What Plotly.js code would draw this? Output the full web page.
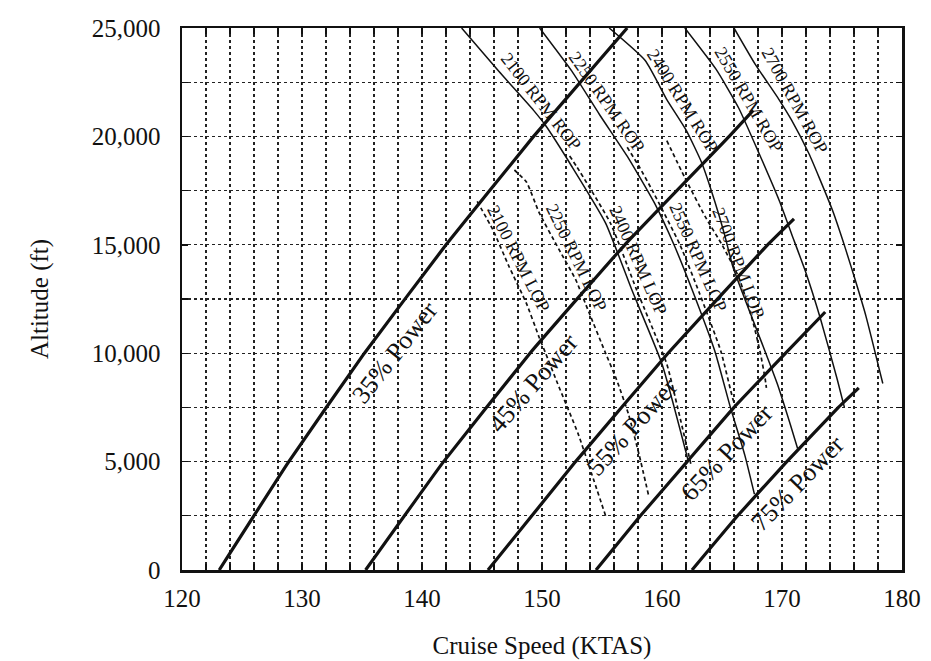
<!DOCTYPE html>
<html><head><meta charset="utf-8">
<script src="https://cdn.plot.ly/plotly-3.0.1.min.js"></script>
<style>html,body{margin:0;padding:0;background:#fff}#chart{width:931px;height:661px}</style>
</head><body><div id="chart"></div>
<script>
// ---- Axis ticks ----
const xTickVals = [120, 130, 140, 150, 160, 170, 180];
const xTickText = ['120', '130', '140', '150', '160', '170', '180'];
const yTickVals = [0, 5000, 10000, 15000, 20000, 25000];
const yTickText = ['0', '5,000', '10,000', '15,000', '20,000', '25,000'];

// ---- Percent power lines (KTAS, altitude ft) ----
const p35Kt  = [123.1, 128.9, 135.2, 142.0, 149.3, 157.1];
const p35Alt = [0, 5000, 10000, 15000, 20000, 25000];
const p45Kt  = [135.3, 141.8, 149.0, 156.9, 165.6, 167.6];
const p45Alt = [0, 5000, 10000, 15000, 20000, 21200];
const p55Kt  = [145.5, 152.8, 160.5, 168.8, 171.0];
const p55Alt = [0, 5000, 10000, 15000, 16200];
const p65Kt  = [154.5, 158.2, 162.1, 166.0, 170.3, 173.6];
const p65Alt = [0, 2500, 5000, 7500, 10000, 11900];
const p75Kt  = [162.5, 166.3, 170.4, 174.7, 176.4];
const p75Alt = [0, 2500, 5000, 7500, 8400];

// ---- Rich of peak (solid) ----
const rop2100Kt  = [143.3, 146.4, 149.3, 150.3, 152.5, 155.3, 157.5, 160.0, 162.2];
const rop2100Alt = [25000, 23000, 21200, 20500, 18600, 16000, 12900, 9500, 5000];
const rop2250Kt  = [149.8, 152.5, 154.8, 157.2, 159.4, 161.0, 162.6, 164.4, 165.7, 166.9, 167.7];
const rop2250Alt = [25000, 23000, 21000, 19000, 16900, 15000, 12800, 10100, 7500, 5300, 3500];
const rop2400Kt  = [155.6, 158.6, 160.4, 162.0, 163.3, 164.4, 165.2, 165.9, 166.9, 168.3, 169.6, 170.7, 171.3];
const rop2400Alt = [25000, 23500, 21700, 20300, 18800, 17000, 15500, 14000, 12500, 10500, 8600, 6700, 5600];
const rop2550Kt  = [161.9, 164.5, 166.4, 168.1, 169.8, 170.8, 172.0, 173.2, 174.6, 175.2];
const rop2550Alt = [25000, 23100, 21300, 19200, 17000, 15500, 13700, 11600, 8800, 7500];
const rop2700Kt  = [166.0, 167.8, 169.75, 170.8, 172.25, 173.1, 174.2, 175.3, 176.2, 177.0, 178.4];
const rop2700Alt = [25000, 23300, 21700, 20750, 19200, 18100, 16600, 14800, 13200, 11700, 8600];

// ---- Lean of peak (dashed) ----
const lop2100Kt  = [144.6, 145.9, 147.25, 148.7, 149.75, 150.3, 151.3, 153.0, 154.1, 155.3];
const lop2100Alt = [17000, 15700, 14000, 12300, 10750, 10000, 8600, 6300, 4500, 2500];
const lop2250Kt  = [147.7, 148.7, 149.75, 151.4, 152.8, 153.9, 155.3, 156.2, 157.2, 158.1, 158.9];
const lop2250Alt = [18450, 17900, 16500, 14800, 13400, 11900, 10000, 8800, 7200, 5300, 3400];
const lop2400Kt  = [152.3, 152.9, 155.7, 157.9, 160.4, 161.3, 162.4];
const lop2400Alt = [19100, 18600, 16000, 12900, 9500, 7500, 4900];
const lop2550Kt  = [157.1, 158.1, 159.2, 161.5, 163.1, 164.9, 165.9, 166.1];
const lop2550Alt = [19500, 18600, 17500, 15000, 12800, 10100, 7900, 7600];
const lop2700Kt  = [160.4, 161.9, 163.6, 165.0, 166.4, 167.6, 168.2, 168.6, 168.7];
const lop2700Alt = [19800, 18100, 16300, 15000, 13500, 11400, 10000, 8800, 8400];

const series = {
  p35: [p35Kt, p35Alt], p45: [p45Kt, p45Alt], p55: [p55Kt, p55Alt], p65: [p65Kt, p65Alt], p75: [p75Kt, p75Alt],
  r2100: [rop2100Kt, rop2100Alt], r2250: [rop2250Kt, rop2250Alt], r2400: [rop2400Kt, rop2400Alt],
  r2550: [rop2550Kt, rop2550Alt], r2700: [rop2700Kt, rop2700Alt],
  l2100: [lop2100Kt, lop2100Alt], l2250: [lop2250Kt, lop2250Alt], l2400: [lop2400Kt, lop2400Alt],
  l2550: [lop2550Kt, lop2550Alt], l2700: [lop2700Kt, lop2700Alt]
};

const powerKeys = ['p35', 'p45', 'p55', 'p65', 'p75'];
const ropKeys = ['r2100', 'r2250', 'r2400', 'r2550', 'r2700'];
const lopKeys = ['l2100', 'l2250', 'l2400', 'l2550', 'l2700'];

const traces = [];
lopKeys.forEach(k => traces.push({x: series[k][0], y: series[k][1], mode: 'lines', type: 'scatter',
  line: {color: '#111', width: 1.7, dash: '4px,3px', shape: 'spline', smoothing: 0.5}, hoverinfo: 'skip'}));
ropKeys.forEach(k => traces.push({x: series[k][0], y: series[k][1], mode: 'lines', type: 'scatter',
  line: {color: '#111', width: 1.5, shape: 'spline', smoothing: 0.5}, hoverinfo: 'skip'}));
powerKeys.forEach(k => traces.push({x: series[k][0], y: series[k][1], mode: 'lines', type: 'scatter',
  line: {color: '#111', width: 3.2, shape: 'spline', smoothing: 0.3}, hoverinfo: 'skip'}));

// interpolate KTAS on a curve at a given altitude
function ktAt(key, alt) {
  const xs = series[key][0], ys = series[key][1];
  for (let i = 0; i < ys.length - 1; i++) {
    const a = ys[i], b = ys[i + 1];
    if ((alt - a) * (alt - b) <= 0) {
      const t = (alt - a) / (b - a);
      return xs[i] + t * (xs[i + 1] - xs[i]);
    }
  }
  return xs[xs.length - 1];
}

// labels anchored to their curves
const labels = [
  {key: 'p35', text: '35% Power', alt: 10050, dx: 2.45, angle: -52, size: 26},
  {key: 'p45', text: '45% Power', alt: 8630, dx: 2.3, angle: -49, size: 26},
  {key: 'p55', text: '55% Power', alt: 6600, dx: 2.3, angle: -48, size: 26},
  {key: 'p65', text: '65% Power', alt: 5440, dx: 2.6, angle: -47, size: 26},
  {key: 'p75', text: '75% Power', alt: 4010, dx: 2.5, angle: -46, size: 26},
  {key: 'r2100', text: '2100 RPM ROP', alt: 21600, dx: 1.3, angle: 52, size: 18},
  {key: 'r2250', text: '2250 RPM ROP', alt: 21600, dx: 1.3, angle: 55, size: 18},
  {key: 'r2400', text: '2400 RPM ROP', alt: 21650, dx: 1.3, angle: 58, size: 18},
  {key: 'r2550', text: '2550 RPM ROP', alt: 21700, dx: 1.3, angle: 60, size: 18},
  {key: 'r2700', text: '2700 RPM ROP', alt: 21650, dx: 1.3, angle: 61, size: 18},
  {key: 'l2100', text: '2100 RPM LOP', alt: 14350, dx: 1.1, angle: 63, size: 18},
  {key: 'l2250', text: '2250 RPM LOP', alt: 14400, dx: 1.1, angle: 64, size: 18},
  {key: 'l2400', text: '2400 RPM LOP', alt: 14300, dx: 1.1, angle: 66, size: 18},
  {key: 'l2550', text: '2550 RPM LOP', alt: 14440, dx: 1.1, angle: 66, size: 18},
  {key: 'l2700', text: '2700 RPM LOP', alt: 14160, dx: 0.6, angle: 69, size: 18}
];

const FONT = 'Liberation Serif, Times New Roman, serif';
const annotations = labels.map(L => ({
  x: ktAt(L.key, L.alt) + L.dx, y: L.alt, xref: 'x', yref: 'y',
  text: L.text, showarrow: false, textangle: L.angle,
  xanchor: 'center', yanchor: 'middle',
  font: {family: FONT, size: L.size, color: '#111'}
}));

const gridCommon = {showgrid: true, gridcolor: '#222', gridwidth: 1.2, griddash: 'dot'};

const layout = {
  width: 931, height: 661,
  margin: {l: 182, r: 29, t: 28, b: 91},
  paper_bgcolor: '#fff', plot_bgcolor: '#fff',
  showlegend: false,
  font: {family: FONT, color: '#111', size: 25},
  xaxis: Object.assign({
    range: [120, 180], tickmode: 'array', tickvals: xTickVals, ticktext: xTickText,
    showline: true, linecolor: '#111', linewidth: 2.5, mirror: 'allticks',
    ticks: 'inside', ticklen: 6, tickwidth: 1.4, tickcolor: '#111',
    zeroline: false, tickfont: {family: FONT, size: 25, color: '#111'},
    ticklabelstandoff: 4,
    minor: Object.assign({tickmode: 'linear', tick0: 120, dtick: 2, ticks: 'inside', ticklen: 6, tickcolor: '#111', tickwidth: 1.2}, gridCommon),
    title: {text: 'Cruise Speed (KTAS)', font: {family: FONT, size: 25, color: '#111'}, standoff: 26}
  }, gridCommon),
  yaxis: Object.assign({
    range: [0, 25000], tickmode: 'array', tickvals: yTickVals, ticktext: yTickText,
    showline: true, linecolor: '#111', linewidth: 2.5, mirror: 'allticks',
    ticks: 'inside', ticklen: 6, tickwidth: 1.4, tickcolor: '#111',
    zeroline: false, tickfont: {family: FONT, size: 25, color: '#111'},
    ticklabelstandoff: 14,
    minor: Object.assign({tickmode: 'linear', tick0: 0, dtick: 2500, ticks: 'inside', ticklen: 6, tickcolor: '#111', tickwidth: 1.2}, gridCommon),
    title: {text: 'Altitude (ft)', font: {family: FONT, size: 25, color: '#111'}, standoff: 36}
  }, gridCommon),
  annotations: annotations
};

Plotly.newPlot('chart', traces, layout, {staticPlot: true, displayModeBar: false});
</script>
</body></html>
